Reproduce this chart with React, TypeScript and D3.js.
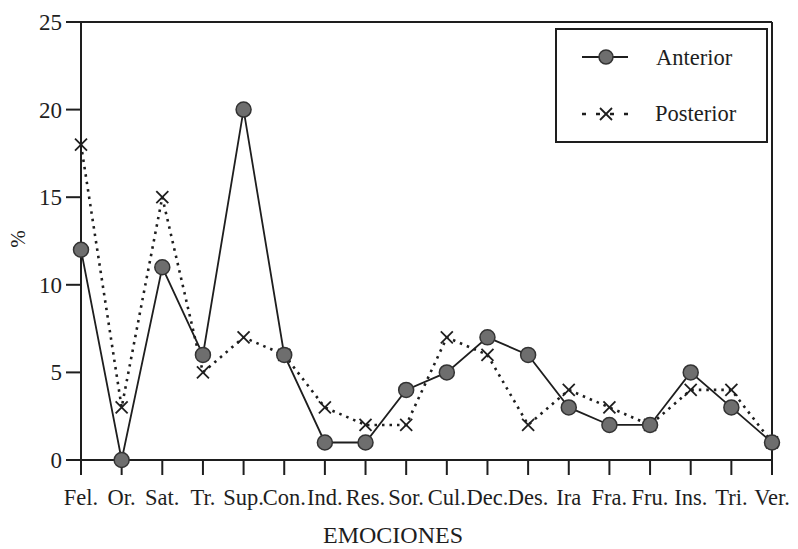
import React from "react";
import * as d3 from "d3";

const categories = ["Fel.", "Or.", "Sat.", "Tr.", "Sup.", "Con.", "Ind.", "Res.", "Sor.", "Cul.", "Dec.", "Des.", "Ira", "Fra.", "Fru.", "Ins.", "Tri.", "Ver."];
const anterior = [12, 0, 11, 6, 20, 6, 1, 1, 4, 5, 7, 6, 3, 2, 2, 5, 3, 1];
const posterior = [18, 3, 15, 5, 7, 6, 3, 2, 2, 7, 6, 2, 4, 3, 2, 4, 4, 1];
const yTicks = [0, 5, 10, 15, 20, 25];

const W = 798, H = 549;
const left = 81, right = 772, top = 22, bottom = 460;
const FONT = "'Liberation Serif', 'Times New Roman', serif";
const INK = "#1e1e1e";

export default function App() {
  const x = d3.scalePoint<string>().domain(categories).range([left, right]);
  const y = d3.scaleLinear().domain([0, 25]).range([bottom, top]);
  const line = d3.line<number>().x((_, i) => x(categories[i])!).y((d) => y(d));

  const cross = (cx: number, cy: number, s = 6, key?: any) => (
    <g key={key} stroke={INK} strokeWidth={1.8}>
      <line x1={cx - s} y1={cy - s} x2={cx + s} y2={cy + s} />
      <line x1={cx - s} y1={cy + s} x2={cx + s} y2={cy - s} />
    </g>
  );

  return (
    <svg width={W} height={H} style={{ position: "absolute", left: 0, top: 0, background: "#fff" }} fontFamily={FONT}>
      {/* frame */}
      <line x1={left - 15} y1={top} x2={right} y2={top} stroke={INK} strokeWidth={2} />
      <line x1={right} y1={top} x2={right} y2={bottom + 15} stroke={INK} strokeWidth={2} />
      <line x1={left} y1={top} x2={left} y2={bottom + 15} stroke={INK} strokeWidth={2} />
      <line x1={left - 15} y1={bottom} x2={right} y2={bottom} stroke={INK} strokeWidth={2} />
      {/* y ticks */}
      {yTicks.map((t) => (
        <g key={t}>
          <line x1={left - 15} x2={left} y1={y(t)} y2={y(t)} stroke={INK} strokeWidth={2} />
          <text x={left - 19} y={y(t)} dy="0.35em" textAnchor="end" fontSize={23} fill={INK}>{t}</text>
        </g>
      ))}
      {/* x ticks */}
      {categories.map((c) => (
        <g key={c}>
          <line x1={x(c)} x2={x(c)} y1={bottom} y2={bottom + 15} stroke={INK} strokeWidth={2} />
          <text x={x(c)} y={505} textAnchor="middle" fontSize={22.5} fill={INK}>{c}</text>
        </g>
      ))}
      <text x={393} y={543} textAnchor="middle" fontSize={24} fill={INK}>EMOCIONES</text>
      <text transform="translate(25,239) rotate(-90)" textAnchor="middle" fontSize={21} fill={INK}>%</text>

      {/* posterior dotted line */}
      <path d={line(posterior)!} fill="none" stroke={INK} strokeWidth={2.6} strokeDasharray="2.5,5" />
      {/* anterior solid line */}
      <path d={line(anterior)!} fill="none" stroke={INK} strokeWidth={1.8} />
      {posterior.map((v, i) => cross(x(categories[i])!, y(v), 6, "p" + i))}
      {anterior.map((v, i) => (
        <circle key={"a" + i} cx={x(categories[i])} cy={y(v)} r={7.5} fill="#6e6e6e" stroke="#333" strokeWidth={1.5} />
      ))}

      {/* legend */}
      <rect x={556} y={29} width={211} height={113} fill="#fff" stroke={INK} strokeWidth={2} />
      <line x1={582} x2={628} y1={57} y2={57} stroke={INK} strokeWidth={1.8} />
      <circle cx={606} cy={57} r={7} fill="#6e6e6e" stroke="#333" strokeWidth={1.5} />
      <text x={656} y={65} fontSize={22.5} fill={INK}>Anterior</text>
      <line x1={582} x2={630} y1={114} y2={114} stroke={INK} strokeWidth={2.6} strokeDasharray="4,10" />
      {cross(606, 114, 6)}
      <text x={655} y={121} fontSize={22.5} fill={INK}>Posterior</text>
    </svg>
  );
}
